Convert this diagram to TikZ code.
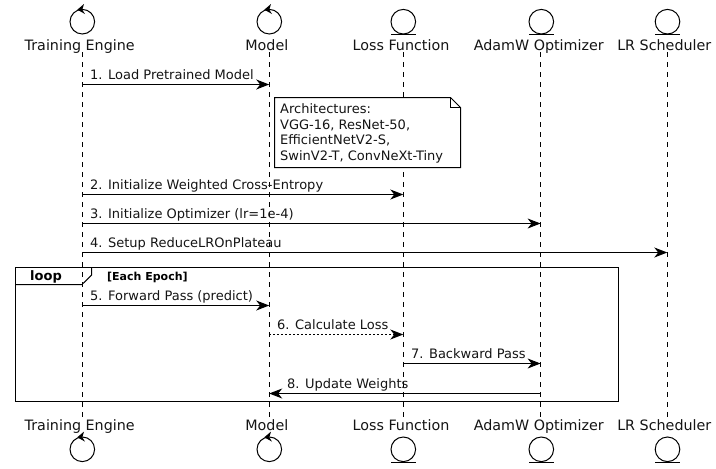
\documentclass[tikz,border=0pt]{standalone}
\usepackage{fontspec}
\setmainfont{DejaVu Sans}
\usetikzlibrary{arrows.meta}
\tikzset{
  thinline/.style={draw=black,line width=1pt},
  lifeline/.style={draw=black,line width=0.9pt,dash pattern=on 5pt off 5pt},
  msg/.style={draw=black,line width=1pt,-{Stealth[length=13pt,width=10pt,inset=4pt]},shorten >=0pt},
  msgdash/.style={msg,dash pattern=on 2pt off 2pt},
  ptlabel/.style={anchor=base,inner sep=0pt,font=\fontsize{14.3pt}{16pt}\selectfont,text=black!92},
  msglabel/.style={anchor=base west,inner sep=0pt,font=\fontsize{13pt}{15pt}\selectfont,text=black!92},
}
\newcommand{\controlicon}[2]{%
  \draw[line width=1pt] (#1,#2) circle (12.3);
  \fill (#1+1.7,#2-17.7) -- (#1-5,#2-12) -- (#1+2.7,#2-7.7) -- (#1,#2-12) -- cycle;
}
\newcommand{\entityicon}[2]{%
  \draw[line width=1pt] (#1,#2) circle (12.3);
  \draw[line width=1pt] (#1-12.3,#2+13) -- (#1+12.3,#2+13);
}
\begin{document}
\begin{tikzpicture}[x=1pt,y=-1pt]
\useasboundingbox (0,0) rectangle (716,469);
% participants
\coordinate (lA) at (82.3,52);  \coordinate (lAe) at (82.3,420);
\coordinate (lB) at (269.2,52); \coordinate (lBe) at (269.2,420);
\coordinate (lC) at (403.3,52); \coordinate (lCe) at (403.3,420);
\coordinate (lD) at (540.6,52); \coordinate (lDe) at (540.6,420);
\coordinate (lE) at (667.3,52); \coordinate (lEe) at (667.3,420);
\draw[lifeline] (lA) -- (lAe);
\draw[lifeline] (lB) -- (lBe);
\draw[lifeline] (lC) -- (lCe);
\draw[lifeline] (lD) -- (lDe);
\draw[lifeline] (lE) -- (lEe);
% top
\controlicon{82.3}{21.7}
\controlicon{269.3}{21.7}
\entityicon{403.3}{21.7}
\entityicon{541.3}{21.7}
\entityicon{667.5}{21.7}
\node[ptlabel] (tA) at (79.7,50) {Training Engine};
\node[ptlabel] (tB) at (266.8,50) {Model};
\node[ptlabel] (tC) at (401,50) {Loss Function};
\node[ptlabel] (tD) at (538.8,50) {AdamW Optimizer};
\node[ptlabel] (tE) at (664.3,50) {LR Scheduler};
% bottom
\controlicon{82.3}{449.3}
\controlicon{269.3}{449.3}
\entityicon{403.3}{449.3}
\entityicon{541.3}{449.3}
\entityicon{667.5}{449.3}
\node[ptlabel] (bA) at (79.7,430) {Training Engine};
\node[ptlabel] (bB) at (266.8,430) {Model};
\node[ptlabel] (bC) at (401,430) {Loss Function};
\node[ptlabel] (bD) at (538.8,430) {AdamW Optimizer};
\node[ptlabel] (bE) at (664.3,430) {LR Scheduler};
% note
\draw[line width=1pt,fill=white] (274.5,97.5) -- (450.5,97.5) -- (460.5,107.5) -- (460.5,167.5) -- (274.5,167.5) -- cycle;
\draw[line width=1pt] (450.5,97.5) -- (450.5,107.5) -- (460.5,107.5);
\node[msglabel] (n1) at (280,113) {Architectures:};
\node[msglabel] (n2) at (280,129) {VGG-16, ResNet-50,};
\node[msglabel] (n3) at (280,144.5) {EfficientNetV2-S,};
\node[msglabel] (n4) at (280,160) {SwinV2-T, ConvNeXt-Tiny};
% frame
\draw[line width=1pt] (15.5,267.5) rectangle (618.5,401.5);
\draw[line width=1pt] (15.5,284.5) -- (82,284.5) -- (91.7,275) -- (91.7,267.5);
\node[anchor=base west,inner sep=0pt,font=\bfseries\fontsize{13pt}{15pt}\selectfont] (loopL) at (30,280) {loop};
\node[anchor=base west,inner sep=0pt,font=\bfseries\fontsize{11pt}{13pt}\selectfont] (loopG) at (107,280) {[Each Epoch]};
% messages
\coordinate (y1) at (0,84.5);
\coordinate (y2) at (0,194.5);
\coordinate (y3) at (0,223.5);
\coordinate (y4) at (0,252.5);
\coordinate (y5) at (0,305.5);
\coordinate (y6) at (0,334.5);
\coordinate (y7) at (0,363.5);
\coordinate (y8) at (0,393.5);
\draw[msg] (lA|-y1) -- (lB|-y1);
\draw[msg] (lA|-y2) -- (lC|-y2);
\draw[msg] (lA|-y3) -- (lD|-y3);
\draw[msg] (lA|-y4) -- (lE|-y4);
\draw[msg] (lA|-y5) -- (lB|-y5);
\draw[msgdash] (lB|-y6) -- (lC|-y6);
\draw[msg] (lC|-y7) -- (lD|-y7);
\draw[msg] (lD|-y8) -- (lB|-y8);
\node[msglabel] (m1) at (90,79.3) {1. Load Pretrained Model};
\node[msglabel] (m2) at (90,189.3) {2. Initialize Weighted Cross-Entropy};
\node[msglabel] (m3) at (90,218.3) {3. Initialize Optimizer (lr=1e-4)};
\node[msglabel] (m4) at (90,247.8) {4. Setup ReduceLROnPlateau};
\node[msglabel] (m5) at (90,300.3) {5. Forward Pass (predict)};
\node[msglabel] (m6) at (277,329.3) {6. Calculate Loss};
\node[msglabel] (m7) at (411,358.3) {7. Backward Pass};
\node[msglabel] (m8) at (287,388.3) {8. Update Weights};
\end{tikzpicture}
\end{document}
